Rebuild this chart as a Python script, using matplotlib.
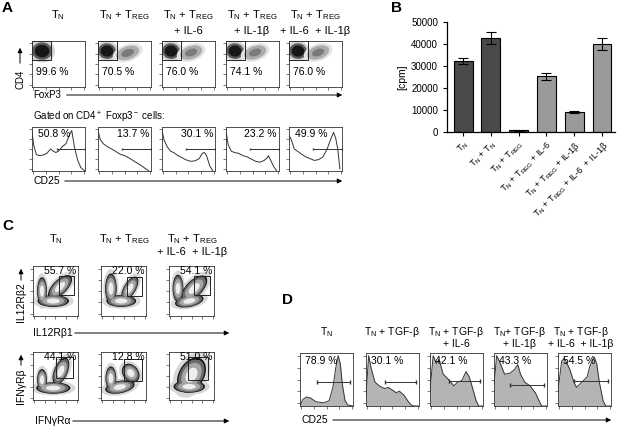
import numpy as np
import matplotlib
matplotlib.use("Agg")
import matplotlib.pyplot as plt
from matplotlib.patches import Ellipse, Rectangle, FancyArrowPatch

plt.rcParams["font.family"] = ["Liberation Sans", "DejaVu Sans"]
plt.rcParams["mathtext.fontset"] = "custom"
plt.rcParams["mathtext.rm"] = "Liberation Sans"

# ---------------- data ----------------
TN = r"T$_\mathregular{N}$"
TREG = r"T$_\mathregular{REG}$"

# panel A
a_titles = [[TN], [TN + " + " + TREG], [TN + " + " + TREG, "+ IL-6"],
            [TN + " + " + TREG, "+ IL-1β"], [TN + " + " + TREG, "+ IL-6  + IL-1β"]]
a_foxp3_pct = ["99.6 %", "70.5 %", "76.0 %", "74.1 %", "76.0 %"]
a_cd25_pct = ["50.8 %", "13.7 %", "30.1 %", "23.2 %", "49.9 %"]
a_cd25_pct_side = ["left", "right", "right", "right", "left"]
# clusters (cx, cy, w, h, angle, shade) -- shade: "dense" or "sparse"
a_clusters = [
    [(0.19, 0.78, 0.38, 0.38, 20, "dense")],
    [(0.17, 0.78, 0.33, 0.34, 15, "dense"), (0.56, 0.74, 0.46, 0.28, 25, "sparse")],
    [(0.17, 0.78, 0.33, 0.34, 15, "dense"), (0.55, 0.75, 0.44, 0.28, 25, "sparse")],
    [(0.17, 0.78, 0.33, 0.34, 15, "dense"), (0.55, 0.75, 0.44, 0.28, 25, "sparse")],
    [(0.17, 0.78, 0.33, 0.34, 15, "dense"), (0.55, 0.75, 0.44, 0.28, 25, "sparse")],
]
a_hist_x = [
    [0, .03, .08, .13, .2, .28, .35, .4, .45, .5, .57, .64, .7, .75, .8, .86, .92, 1],
    [0, .04, .1, .18, .26, .34, .42, .5, .58, .66, .74, .82, .9, .96],
    [0, .04, .1, .16, .22, .3, .38, .46, .54, .62, .7, .76, .8, .84, .9, .96],
    [0, .04, .1, .16, .24, .32, .4, .48, .56, .64, .72, .78, .8, .84, .9, .96],
    [0, .03, .06, .1, .16, .24, .32, .4, .48, .56, .64, .72, .78, .84, .88, .92, .96],
]
a_hist_y = [
    [.9, .6, .38, .35, .36, .4, .5, .45, .42, .45, .55, .62, .8, .92, .55, .25, .08, 0],
    [.92, .72, .62, .55, .5, .44, .38, .35, .3, .24, .18, .12, .05, 0],
    [.92, .7, .55, .45, .42, .35, .3, .25, .22, .23, .28, .4, .42, .35, .12, 0],
    [.92, .6, .45, .42, .4, .35, .32, .27, .22, .2, .24, .3, .35, .25, .1, 0],
    [.8, .75, .65, .5, .45, .38, .32, .28, .24, .26, .32, .5, .7, .88, .75, .5, .05],
]
a_gate_x0 = [0.48, 0.45, 0.45, 0.45, 0.45]

# panel B
b_labels = [TN, TN + " + " + TN, TN + " + " + TREG, TN + " + " + TREG + " + IL-6",
            TN + " + " + TREG + " + IL-1β", TN + " + " + TREG + " + IL-6  + IL-1β"]
b_values = [32300, 42700, 800, 25300, 9200, 40200]
b_errors = [1300, 2800, 150, 1700, 500, 2700]
b_colors = ["#4a4a4a", "#4a4a4a", "#4a4a4a", "#9a9a9a", "#9a9a9a", "#9a9a9a"]

# panel C
c_titles = [[TN], [TN + " + " + TREG], [TN + " + " + TREG, "+ IL-6  + IL-1β"]]
c_row1_pct = ["55.7 %", "22.0 %", "54.1 %"]
c_row2_pct = ["44.1 %", "12.8 %", "51.0 %"]
c_row1_gate = [(0.57, 0.43, 0.35, 0.38), (0.58, 0.40, 0.32, 0.38), (0.56, 0.42, 0.34, 0.38)]
c_row2_gate = [(0.52, 0.45, 0.38, 0.45), (0.50, 0.40, 0.40, 0.45), (0.42, 0.42, 0.45, 0.48)]
c_row1_blobs = [
    [(0.45, 0.30, 0.70, 0.24, 0), (0.20, 0.50, 0.22, 0.55, 0), (0.60, 0.58, 0.65, 0.30, 40)],
    [(0.22, 0.55, 0.26, 0.60, 0), (0.45, 0.30, 0.66, 0.24, 0), (0.64, 0.55, 0.55, 0.26, 55)],
    [(0.20, 0.55, 0.24, 0.55, 0), (0.45, 0.30, 0.64, 0.24, 10), (0.56, 0.55, 0.70, 0.34, 40)],
]
c_row2_blobs = [
    [(0.45, 0.25, 0.76, 0.24, 0), (0.20, 0.42, 0.22, 0.45, 0), (0.62, 0.60, 0.60, 0.30, 65)],
    [(0.42, 0.27, 0.66, 0.26, 10), (0.22, 0.45, 0.24, 0.50, 0), (0.66, 0.56, 0.34, 0.44, 45)],
    [(0.50, 0.52, 0.80, 0.55, 55), (0.45, 0.28, 0.70, 0.26, 0)],
]

# panel D
d_titles = [[TN], [TN + " + TGF-β"], [TN + " + TGF-β", "+ IL-6"],
            [TN + "+ TGF-β", "+ IL-1β"], [TN + " + TGF-β", "+ IL-6  + IL-1β"]]
d_pct = ["78.9 %", "30.1 %", "42.1 %", "43.3 %", "54.5 %"]
d_hist_x = [
    [0, .05, .12, .2, .3, .45, .55, .62, .68, .72, .76, .8, .85, .9, 1],
    [0, .05, .1, .17, .25, .35, .42, .5, .57, .63, .72, .8, .85, .9, 1],
    [0, .06, .12, .17, .25, .35, .45, .52, .6, .68, .74, .8, .87, .92, 1],
    [0, .05, .1, .2, .3, .38, .45, .5, .58, .68, .78, .85, .9, 1],
    [0, .07, .12, .22, .3, .35, .45, .55, .6, .68, .73, .78, .85, .9, 1],
]
d_hist_y = [
    [0, .12, .17, .15, .08, .06, .1, .35, .75, .95, .8, .4, .1, .02, 0],
    [.2, .95, .7, .45, .38, .33, .35, .3, .25, .28, .2, .08, .02, 0, 0],
    [.3, .95, .8, .88, .6, .5, .38, .45, .48, .65, .55, .35, .1, 0, 0],
    [.4, .95, .85, .6, .62, .68, .78, .6, .45, .38, .25, .1, 0, 0],
    [.3, .85, .9, .7, .45, .35, .45, .55, .75, .93, .8, .45, .1, 0, 0],
]
d_gate = [(0.33, 0.45), (0.35, 0.45), (0.35, 0.47), (0.30, 0.40), (0.30, 0.47)]

# ---------------- layout helpers (pixel coords, origin top-left) ----------------
W, H = 617, 426
fig = plt.figure(figsize=(W / 100, H / 100), dpi=100)


def px_axes(x, y, w, h):
    return fig.add_axes([x / W, 1 - (y + h) / H, w / W, h / H])


def ftext(x, y, s, **kw):
    kw.setdefault("fontsize", 7.5)
    kw.setdefault("va", "center")
    fig.text(x / W, 1 - y / H, s, **kw)


def arrow(x0, y0, x1, y1):
    fig.add_artist(FancyArrowPatch((x0 / W, 1 - y0 / H), (x1 / W, 1 - y1 / H),
                                   transform=fig.transFigure, arrowstyle="-|>",
                                   mutation_scale=7, lw=0.7, color="k"))


def flow_frame(ax):
    ax.set_xlim(0, 1)
    ax.set_ylim(0, 1)
    ax.set_xticks(np.linspace(0.02, 0.98, 5))
    ax.set_yticks(np.linspace(0.05, 0.95, 5))
    ax.tick_params(length=2, width=0.5, labelbottom=False, labelleft=False,
                   direction="out", colors="#444444")
    for s in ax.spines.values():
        s.set_linewidth(0.6)
        s.set_color("#333333")


def blobs(ax, items, layers):
    for scale, color in layers:
        for cx, cy, w, h, ang in items:
            ax.add_patch(Ellipse((cx, cy), w * scale, h * scale, angle=ang,
                                 facecolor=color, edgecolor="none"))


def title_lines(cx, y0, lines, dy=16, size=8):
    for k, s in enumerate(lines):
        ftext(cx, y0 + k * dy, s, ha="center", fontsize=size)


dot_layers = {
    "dense": [(1.3, "#d2d2d2"), (1.0, "#5a5a5a"), (0.72, "#161616")],
    "sparse": [(1.3, "#e4e4e4"), (1.0, "#acacac"), (0.55, "#7a7a7a")],
}

# ---------------- panel A ----------------
ftext(2, 8, "A", fontsize=11, fontweight="bold")
a_x = [32, 98, 162, 226, 289]
for i, x in enumerate(a_x):
    title_lines(x + 26, 15, a_titles[i])
    ax = px_axes(x, 41, 53, 46)
    flow_frame(ax)
    for cx, cy, w, h, ang, shade in a_clusters[i]:
        for scale, color in dot_layers[shade]:
            ax.add_patch(Ellipse((cx, cy), w * scale, h * scale, angle=ang,
                                 facecolor=color, edgecolor="none"))
    ax.add_patch(Rectangle((0.0, 0.58), 0.35, 0.42, fill=False, lw=0.7, ec="#222222"))
    ax.text(0.07, 0.33, a_foxp3_pct[i], transform=ax.transAxes, fontsize=7.5, va="center")

    hx = px_axes(x, 127, 53, 44)
    flow_frame(hx)
    hx.plot(a_hist_x[i], a_hist_y[i], color="#333333", lw=0.7)
    hx.plot([a_gate_x0[i], 1.0], [0.5, 0.5], color="#333333", lw=0.7, marker="|", ms=2)
    if a_cd25_pct_side[i] == "left":
        hx.text(0.12, 0.83, a_cd25_pct[i], transform=hx.transAxes, fontsize=7.5, va="center")
    else:
        hx.text(0.96, 0.83, a_cd25_pct[i], transform=hx.transAxes, fontsize=7.5, va="center", ha="right")

ftext(20, 79, "CD4", rotation=90, ha="center", fontsize=7)
arrow(20, 66, 20, 45)
ftext(33, 95, "FoxP3", fontsize=7)
arrow(64, 95, 345, 95)
ftext(33, 117, r"Gated on CD4$^+$ Foxp3$^-$ cells:", fontsize=7)
ftext(33, 181, "CD25", fontsize=7.5)
arrow(62, 181, 345, 181)

# ---------------- panel B ----------------
ftext(391, 8, "B", fontsize=11, fontweight="bold")
bx = px_axes(447, 22, 168, 110)
pos = np.arange(len(b_values))
bx.bar(pos, b_values, width=0.68, color=b_colors, edgecolor="black", linewidth=0.8,
       yerr=b_errors, error_kw=dict(ecolor="black", elinewidth=0.8, capsize=3.5, capthick=0.8))
bx.set_xlim(-0.58, 5.47)
bx.set_ylim(0, 50000)
bx.set_yticks(range(0, 50001, 10000))
bx.set_xticks(pos)
bx.set_xticklabels(b_labels, rotation=45, ha="right", rotation_mode="anchor", fontsize=6.5)
bx.tick_params(axis="y", labelsize=7, length=3, width=0.8)
bx.tick_params(axis="x", length=3, width=0.8, pad=2)
bx.spines["top"].set_visible(False)
bx.spines["right"].set_visible(False)
bx.spines["left"].set_linewidth(0.9)
bx.spines["bottom"].set_linewidth(0.9)
bx.set_ylabel("[cpm]", fontsize=7.5, labelpad=3)

# ---------------- panel C ----------------
ftext(2, 226, "C", fontsize=11, fontweight="bold")
c_x = [33, 101, 169]
layers = [(1.3, "#d8d8d8"), (1.0, "#141414"), (0.9, "#6a6a6a"), (0.7, "#a6a6a6"), (0.42, "#eeeeee")]
for i, x in enumerate(c_x):
    title_lines(x + 23, 239, c_titles[i], dy=13)
    for row_y, row_h, blob_set, gate, pct in [(266, 50, c_row1_blobs, c_row1_gate, c_row1_pct),
                                              (352, 48, c_row2_blobs, c_row2_gate, c_row2_pct)]:
        ax = px_axes(x, row_y, 45, row_h)
        flow_frame(ax)
        blobs(ax, blob_set[i], layers)
        gx, gy, gw, gh = gate[i]
        ax.add_patch(Rectangle((gx, gy), gw, gh, fill=False, lw=0.7, ec="#222222"))
        ax.text(0.96, 0.9, pct[i], transform=ax.transAxes, fontsize=7.5, va="center", ha="right")

ftext(21, 302, "IL12Rβ2", rotation=90, ha="center", fontsize=7.5)
arrow(21, 283, 21, 266)
ftext(33, 333, "IL12Rβ1", fontsize=7.5)
arrow(72, 333, 232, 333)
ftext(21, 386, "IFNγRβ", rotation=90, ha="center", fontsize=7.5)
arrow(21, 368, 21, 352)
ftext(35, 421, "IFNγRα", fontsize=7.5)
arrow(70, 421, 232, 421)

# ---------------- panel D ----------------
ftext(282, 300, "D", fontsize=11, fontweight="bold")
d_x = [300, 366, 430, 494, 558]
d_title_dx = [27, 26, 26, 25, 23]
for i, x in enumerate(d_x):
    title_lines(x + d_title_dx[i], 332, d_titles[i], dy=12, size=7.5)
    ax = px_axes(x, 353, 53, 53)
    flow_frame(ax)
    ax.fill_between(d_hist_x[i], d_hist_y[i], 0, color="#b4b4b4", lw=0)
    ax.plot(d_hist_x[i], d_hist_y[i], color="#333333", lw=0.7)
    g0, gy = d_gate[i]
    ax.plot([g0, 0.95], [gy, gy], color="#333333", lw=0.7, marker="|", ms=2.5)
    ax.text(0.1, 0.84, d_pct[i], transform=ax.transAxes, fontsize=7.5, va="center")

ftext(302, 420, "CD25", fontsize=7.5)
arrow(330, 420, 614, 420)

fig.savefig("out.png", dpi=100)
